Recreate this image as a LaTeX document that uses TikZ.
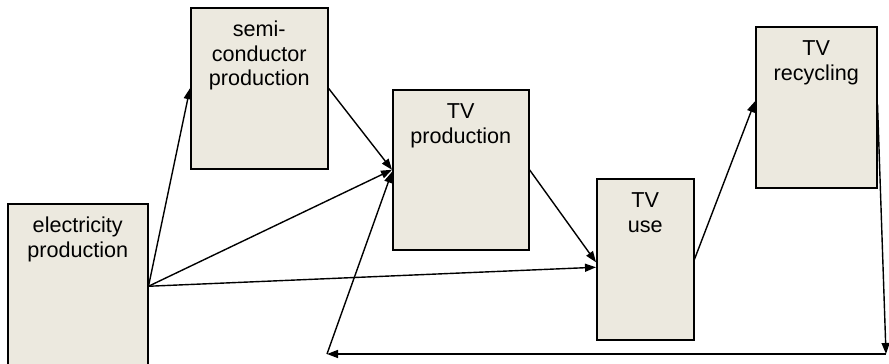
\documentclass[tikz,border=0pt]{standalone}
\usepackage{fontspec}
\setmainfont{Liberation Sans}
\usepackage{tikz}
\usetikzlibrary{positioning,arrows.meta,calc}
\definecolor{boxfill}{RGB}{236,233,223}

\begin{document}
\begin{tikzpicture}[x=1pt,y=-1pt,
  stage/.style={draw,fill=boxfill,line width=1.5pt,inner sep=0pt,anchor=north west,
    align=center,text height=29pt,font=\fontsize{21.6}{24.5}\selectfont},
  flow/.style={line width=1.4pt,-{Triangle[length=11pt,width=8pt]}}]
\useasboundingbox (0,0) rectangle (889,364);
% the five stages
\node[stage,text width=140pt,text depth=136pt] (elec) at (7,203) {electricity\\production};
\node[stage,text width=137pt,text depth=132pt] (semi) at (190,7) {semi-\\conductor\\production};
\node[stage,text width=136pt,text depth=131pt] (prod) at (392,89) {TV\\production};
\node[stage,text width=97pt,text depth=132pt] (use) at (596,178) {TV\\use};
\node[stage,text width=121pt,text depth=132pt] (recyc) at (755,26) {TV\\recycling};
\coordinate (corner) at (886,354); \coordinate (back) at (327,354);
% flows
\draw[flow] (elec.east) -- (semi.west);
\draw[flow] (elec.east) -- (prod.west);
\draw[flow] (elec.east) -- ([yshift=-8pt]use.west);
\draw[flow] (semi.east) -- (prod.west);
\draw[flow] (prod.east) -- ([yshift=-3pt]use.west);
\draw[flow] (use.east) -- ([yshift=6pt]recyc.west);
\draw[flow] ([yshift=3pt]recyc.east) -- (corner);
\draw[flow] (corner) -- (back);
\draw[flow] (back) -- ([yshift=-2pt]prod.west);
\end{tikzpicture}
\end{document}
